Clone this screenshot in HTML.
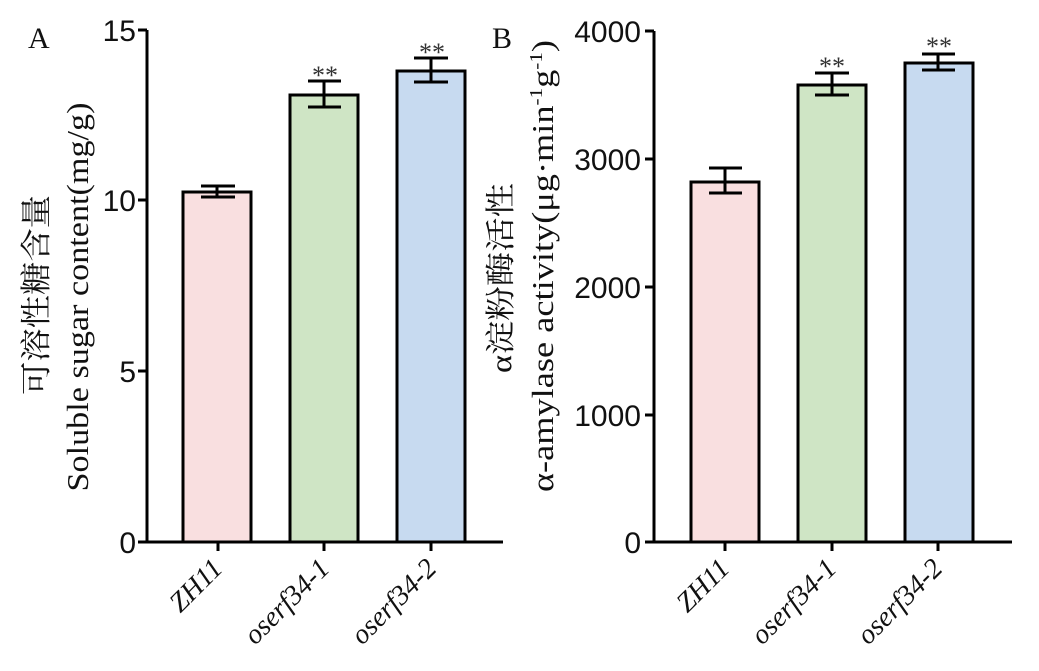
<!DOCTYPE html>
<html><head><meta charset="utf-8"><style>
html,body{margin:0;padding:0;background:#fff;}
svg{display:block;}
.t{font-family:"Liberation Sans",sans-serif;font-size:30px;fill:#111;}
.s{font-family:"Liberation Serif","Noto Serif CJK SC",serif;fill:#111;}
.x{font-family:"Liberation Serif",serif;font-style:italic;font-size:28px;fill:#111;}
.st{font-family:"Liberation Serif",serif;font-size:26px;fill:#333;}
</style></head><body>
<svg width="1039" height="671" viewBox="0 0 1039 671">
<g stroke="#000" stroke-width="3" fill="none">
<path d="M147,30 V542 H503"/>
<path d="M138,30 H147 M138,200 H147 M138,371 H147 M138,542 H147"/>
<path d="M218,542 V551 M324,542 V551 M431,542 V551"/>
<rect x="183" y="192" width="68" height="350" fill="#f9dfe0"/>
<rect x="290" y="95" width="68" height="447" fill="#cfe5c5"/>
<rect x="397" y="71" width="68" height="471" fill="#c7daf0"/>
<path d="M217,186 V197 M201,186 H235 M201,197 H235"/>
<path d="M324,81 V107 M308,81 H341 M308,107 H341"/>
<path d="M431,58 V82 M414,58 H448 M414,82 H448"/>
<path d="M654,31 V542 H1012"/>
<path d="M645,31 H654 M645,159 H654 M645,287 H654 M645,415 H654 M645,542 H654"/>
<path d="M725,542 V551 M832,542 V551 M938,542 V551"/>
<rect x="691" y="182" width="68" height="360" fill="#f9dfe0"/>
<rect x="798" y="85" width="68" height="457" fill="#cfe5c5"/>
<rect x="905" y="63" width="68" height="479" fill="#c7daf0"/>
<path d="M725,168 V193 M709,168 H742 M709,193 H742"/>
<path d="M832,73 V95 M815,73 H849 M815,95 H849"/>
<path d="M938,54 V70 M922,54 H955 M922,70 H955"/>
</g>
<g class="t" text-anchor="end">
<text x="136" y="41">15</text><text x="136" y="211">10</text><text x="136" y="382">5</text><text x="136" y="553">0</text>
<text x="641" y="42">4000</text><text x="641" y="170">3000</text><text x="641" y="298">2000</text><text x="641" y="426">1000</text><text x="641" y="553">0</text>
</g>
<g class="st" text-anchor="middle">
<text x="325" y="84">**</text><text x="432" y="61">**</text>
<text x="832" y="75">**</text><text x="939" y="55">**</text>
</g>
<text class="s" x="28" y="48" font-size="30">A</text>
<text class="s" x="492" y="48" font-size="30">B</text>
<g class="x" text-anchor="end">
<text transform="translate(224,570) rotate(-45)">ZH11</text>
<text transform="translate(331,570) rotate(-45)">oserf34-1</text>
<text transform="translate(438,570) rotate(-45)">oserf34-2</text>
<text transform="translate(731,570) rotate(-45)">ZH11</text>
<text transform="translate(838,570) rotate(-45)">oserf34-1</text>
<text transform="translate(944,570) rotate(-45)">oserf34-2</text>
</g>
<g class="s" text-anchor="middle">
<text transform="translate(47,295) rotate(-90)" font-size="31" textLength="200" lengthAdjust="spacingAndGlyphs">可溶性糖含量</text>
<text transform="translate(88,297) rotate(-90)" font-size="31" textLength="389" lengthAdjust="spacingAndGlyphs">Soluble sugar content(mg/g)</text>
<text transform="translate(511,278) rotate(-90)" font-size="30" textLength="190" lengthAdjust="spacingAndGlyphs">α淀粉酶活性</text>
<text transform="translate(553,266) rotate(-90)" font-size="31" textLength="452" lengthAdjust="spacingAndGlyphs">α-amylase activity(μg·min<tspan font-size="18" dy="-11">-1</tspan><tspan dy="11">g</tspan><tspan font-size="18" dy="-11">-1</tspan><tspan dy="11">)</tspan></text>
</g>
</svg>
</body></html>
